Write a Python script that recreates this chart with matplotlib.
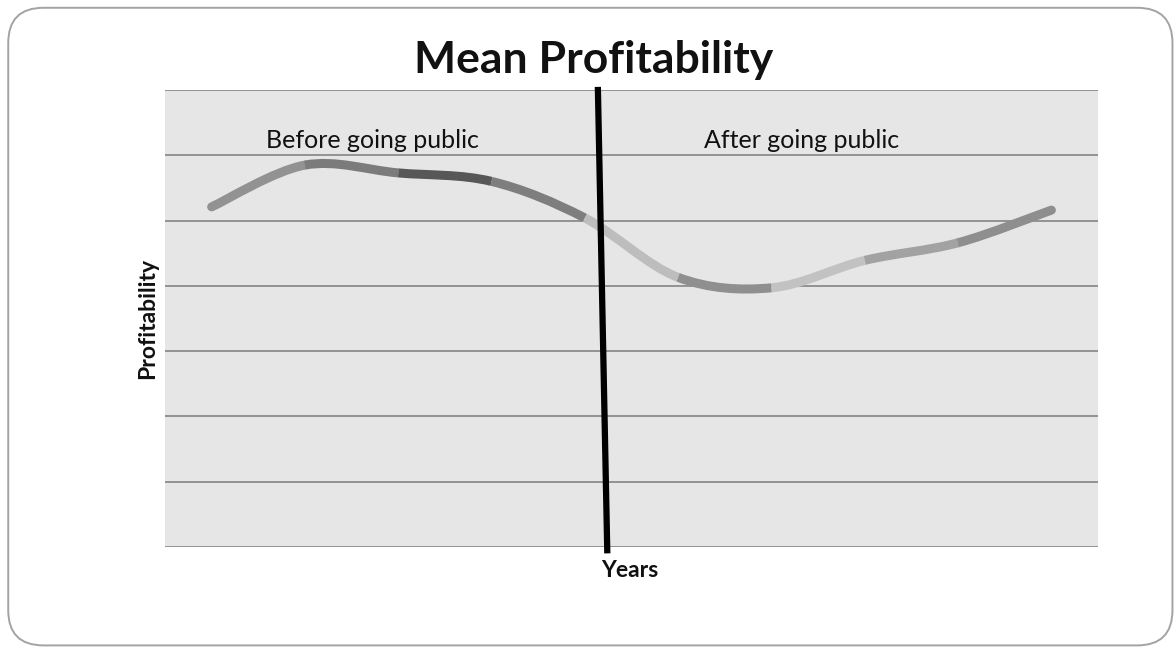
"""Mean profitability before and after going public."""
import matplotlib

matplotlib.use("Agg")
import matplotlib.pyplot as plt
from matplotlib.patches import FancyBboxPatch, PathPatch
from matplotlib.path import Path

years = list(range(10))
profit = [5.21, 5.85, 5.73, 5.60, 5.04, 4.13, 3.97, 4.39, 4.66, 5.16]
seg_colors = ["#929292", "#7b7b7b", "#575757", "#7e7e7e", "#bdbdbd",
              "#8f8f8f", "#c2c2c2", "#a2a2a2", "#8e8e8e"]
ipo_x = [4.14, 4.24]
ipo_y = [7.0, -0.05]

INK = "#111111"
FONT = "Lato"

fig = plt.figure(figsize=(11.76, 6.48), dpi=100)
fig.patches.append(FancyBboxPatch((0.007, 0.004), 0.99, 0.984,
                                  boxstyle="round,pad=0,rounding_size=0.03",
                                  transform=fig.transFigure, fill=False,
                                  edgecolor="#a3a3a3", linewidth=1.4,
                                  mutation_aspect=1176 / 648))

ax = fig.add_axes((0.1403, 0.1559, 0.9337 - 0.1403, 0.8611 - 0.1559))
ax.set_facecolor("#e6e6e6")
ax.set_xlim(-0.5, 9.5)
ax.set_ylim(0, 7)
ax.set_yticks(range(8))
ax.grid(axis="y", color="#8c8c8c", linewidth=1.3)
ax.set_axisbelow(True)
ax.tick_params(left=False, bottom=False, labelleft=False, labelbottom=False)
for s in ax.spines.values():
    s.set_visible(False)


def bezier(i):
    # smoothed segment between point i and i+1 (Catmull-Rom style controls)
    n = len(years)
    p0 = (years[max(i - 1, 0)], profit[max(i - 1, 0)])
    p1 = (years[i], profit[i])
    p2 = (years[i + 1], profit[i + 1])
    p3 = (years[min(i + 2, n - 1)], profit[min(i + 2, n - 1)])
    c1 = (p1[0] + (p2[0] - p0[0]) / 6, p1[1] + (p2[1] - p0[1]) / 6)
    c2 = (p2[0] - (p3[0] - p1[0]) / 6, p2[1] - (p3[1] - p1[1]) / 6)
    return Path([p1, c1, c2, p2], [Path.MOVETO, Path.CURVE4, Path.CURVE4, Path.CURVE4])


order = [0, len(seg_colors) - 1] + list(range(1, len(seg_colors) - 1))
for i in order:
    cap = "round" if i in (0, len(seg_colors) - 1) else "butt"
    ax.add_patch(PathPatch(bezier(i), fill=False, edgecolor=seg_colors[i],
                           linewidth=6.5, capstyle=cap, zorder=3))

ax.plot(ipo_x, ipo_y, color="black", linewidth=4.5, clip_on=False, zorder=4)

ax.text(1.72, 6.23, "Before going public", ha="center", va="center",
        fontsize=18, color=INK, family=FONT)
ax.text(6.32, 6.23, "After going public", ha="center", va="center",
        fontsize=18, color=INK, family=FONT)

fig.text(0.5045, 0.908, "Mean Profitability", ha="center", va="center",
         fontsize=32, fontweight="bold", color=INK, family=FONT)
fig.text(0.5355, 0.119, "Years", ha="center", va="center",
         fontsize=16.5, fontweight="bold", color=INK, family=FONT)
fig.text(0.1255, 0.509, "Profitability", ha="center", va="center", rotation=90,
         fontsize=16.5, fontweight="bold", color=INK, family=FONT)

fig.savefig("out.png", dpi=100)
